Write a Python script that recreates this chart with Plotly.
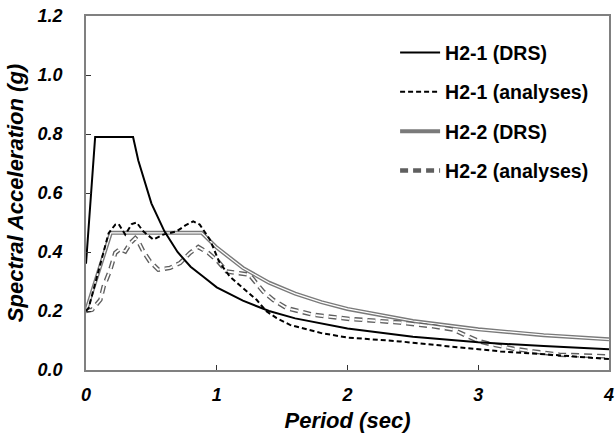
import plotly.graph_objects as go

# periods (sec) and spectral accelerations (g)
t_drs1 = [0.0, 0.07, 0.36, 0.40, 0.50, 0.60, 0.70, 0.80, 0.90, 1.00, 1.20, 1.40,
          1.60, 1.80, 2.00, 2.50, 3.00, 3.50, 4.00]
sa_drs1 = [0.36, 0.79, 0.79, 0.71, 0.565, 0.47, 0.40, 0.35, 0.315, 0.28, 0.235, 0.20,
           0.175, 0.157, 0.141, 0.113, 0.094, 0.081, 0.07]

t_an1 = [0.0, 0.02, 0.173, 0.224, 0.25, 0.30, 0.35, 0.387, 0.438, 0.515, 0.59, 0.693,
         0.76, 0.82, 0.87, 0.948, 1.02, 1.10, 1.20, 1.305, 1.38, 1.458, 1.56, 1.66,
         1.80, 2.00, 2.40, 2.78, 3.17, 3.55, 4.00]
sa_an1 = [0.20, 0.21, 0.464, 0.493, 0.495, 0.459, 0.495, 0.50, 0.47, 0.442, 0.459, 0.47,
          0.49, 0.504, 0.493, 0.442, 0.365, 0.317, 0.278, 0.238, 0.199, 0.176, 0.153, 0.142,
          0.125, 0.11, 0.097, 0.08, 0.063, 0.052, 0.037]

t_drs2 = [0.0, 0.19, 0.885, 1.0, 1.2, 1.4, 1.6, 1.8, 2.0, 2.5, 3.0, 3.5, 4.0]
sa_drs2 = [0.20, 0.465, 0.465, 0.415, 0.346, 0.296, 0.259, 0.23, 0.207, 0.166, 0.138, 0.118, 0.104]

t_an2 = [0.0, 0.046, 0.11, 0.135, 0.186, 0.224, 0.26, 0.30, 0.339, 0.377, 0.40, 0.438,
         0.489, 0.553, 0.642, 0.72, 0.795, 0.859, 0.935, 1.01, 1.076, 1.177, 1.25, 1.355,
         1.43, 1.534, 1.636, 1.738, 2.02, 2.40, 2.655, 2.81, 2.91, 3.01, 3.11, 3.27,
         3.42, 3.62, 4.00]
sa_an2 = [0.20, 0.204, 0.238, 0.283, 0.34, 0.397, 0.41, 0.402, 0.43, 0.447, 0.436, 0.402,
          0.368, 0.34, 0.346, 0.363, 0.397, 0.417, 0.397, 0.368, 0.334, 0.329, 0.323, 0.266,
          0.238, 0.21, 0.199, 0.187, 0.173, 0.161, 0.148, 0.137, 0.116, 0.097, 0.086, 0.072,
          0.063, 0.052, 0.046]

x_ticks = [0, 1, 2, 3, 4]
y_ticks = [0.0, 0.2, 0.4, 0.6, 0.8, 1.0, 1.2]

FONT = "Liberation Sans, Arial, sans-serif"

fig = go.Figure()

# H2-2 DRS: gray double line (gray + thin white core)
fig.add_trace(go.Scatter(x=t_drs2, y=sa_drs2, mode='lines', name='H2-2 (DRS)',
                         line=dict(color='#7a7a7a', width=4), legendrank=3, legendgroup='c'))
fig.add_trace(go.Scatter(x=t_drs2, y=sa_drs2, mode='lines', showlegend=False,
                         line=dict(color='white', width=1.2), hoverinfo='skip'))

# H2-2 analyses: outlined gray dashes
fig.add_trace(go.Scatter(x=t_an2, y=sa_an2, mode='lines', name='H2-2 (analyses)',
                         line=dict(color='#5f5f5f', width=4.5, dash='8px,5px'),
                         legendrank=4, legendgroup='d'))
fig.add_trace(go.Scatter(x=t_an2, y=sa_an2, mode='lines', showlegend=False,
                         line=dict(color='white', width=1.8, dash='8px,5px'), hoverinfo='skip'))

# H2-1 analyses: black dashed
fig.add_trace(go.Scatter(x=t_an1, y=sa_an1, mode='lines', name='H2-1 (analyses)',
                         line=dict(color='black', width=2, dash='5px,3px'),
                         legendrank=2, legendgroup='b'))

# H2-1 DRS: black solid
fig.add_trace(go.Scatter(x=t_drs1, y=sa_drs1, mode='lines', name='H2-1 (DRS)',
                         line=dict(color='black', width=2), legendrank=1, legendgroup='a'))

axis_common = dict(showline=True, linecolor='#808080', linewidth=1.5, mirror=True,
                   ticks='inside', ticklen=5, tickcolor='#333333', tickwidth=1,
                   showgrid=False, zeroline=False, automargin=False,
                   ticklabeloverflow='allow',
                   tickfont=dict(family=FONT, size=18, color='black', weight='bold', style='italic'))

title_font = dict(family=FONT, size=22, color='black', weight='bold', style='italic')

fig.update_xaxes(range=[0, 4], tickvals=x_ticks, ticktext=[str(v) for v in x_ticks],
                 title=dict(text='Period (sec)', standoff=9, font=title_font),
                 ticklabelstandoff=8, **axis_common)
fig.update_yaxes(range=[0, 1.2], tickvals=y_ticks, ticktext=['%.1f' % v for v in y_ticks],
                 title=dict(text='Spectral Acceleration (g)', standoff=8, font=title_font),
                 ticklabelstandoff=18, **axis_common)

fig.update_layout(
    width=616, height=433,
    margin=dict(l=86, r=7, t=16, b=63),
    plot_bgcolor='white', paper_bgcolor='white',
    legend=dict(x=0.591, y=0.951, xanchor='left', yanchor='top',
                font=dict(family=FONT, size=19.5, color='black', weight='bold'),
                bgcolor='rgba(0,0,0,0)', tracegroupgap=11, itemwidth=40),
    showlegend=True,
)

# drop the default 8px page margin so the figure fills the window
fig.write_html("out.html", config={'displayModeBar': False},
               post_script="document.body.style.margin='0px';")
